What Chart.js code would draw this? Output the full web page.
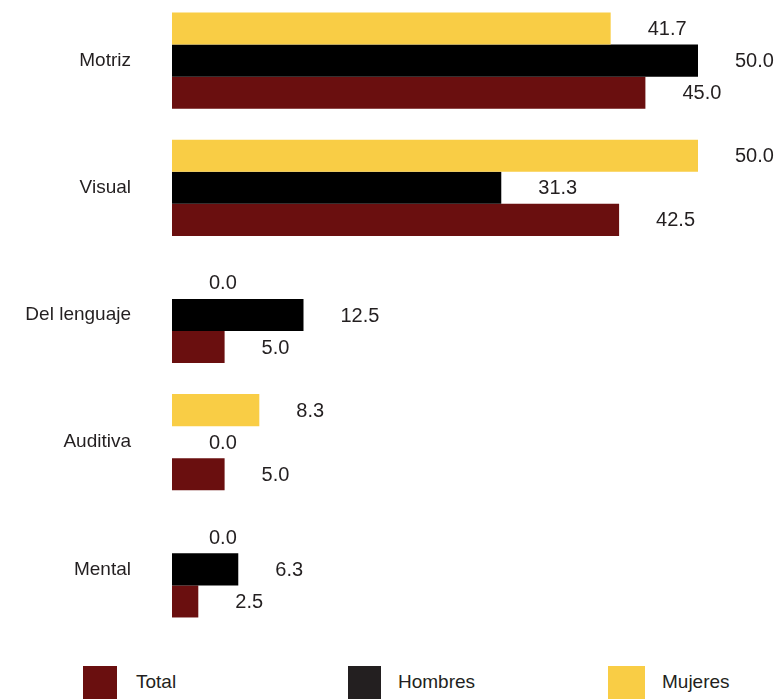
<!DOCTYPE html>
<html>
<head>
<meta charset="utf-8">
<script src="https://cdn.jsdelivr.net/npm/chart.js@4"></script>
<style>
  html, body { margin: 0; padding: 0; background: #fff; }
  body { width: 782px; height: 699px; position: relative; overflow: hidden; font-family: "Liberation Sans", Arial, sans-serif; }
  #chart { position: absolute; left: 0; top: -3px; }
  .leg { position: absolute; top: 666px; height: 40px; }
  .leg span.box { position: absolute; left: 0; top: 0; width: 34px; height: 40px; }
  .leg span.txt { position: absolute; top: 5px; font-size: 19px; color: #231f20; white-space: nowrap; }
</style>
</head>
<body>
<canvas id="chart" width="782" height="636"></canvas>

<div class="leg" style="left:83px"><span class="box" style="background:#6a0f0f"></span><span class="txt" style="left:53px">Total</span></div>
<div class="leg" style="left:348px"><span class="box" style="background:#231f20;width:33px"></span><span class="txt" style="left:50px">Hombres</span></div>
<div class="leg" style="left:608px"><span class="box" style="background:#f9cd45;width:37px"></span><span class="txt" style="left:54px">Mujeres</span></div>

<script>
var categories = ["Motriz", "Visual", "Del lenguaje", "Auditiva", "Mental"];
var mujeres = [41.7, 50.0, 0.0, 8.3, 0.0];
var hombres = [50.0, 31.3, 12.5, 0.0, 6.3];
var total = [45.0, 42.5, 5.0, 5.0, 2.5];

// value labels to the right of each bar
var valueLabels = {
  id: 'valueLabels',
  afterDatasetsDraw: function (chart) {
    var ctx = chart.ctx;
    ctx.save();
    ctx.font = '20px "Liberation Sans", Arial, sans-serif';
    ctx.fillStyle = '#231f20';
    ctx.textAlign = 'left';
    ctx.textBaseline = 'middle';
    chart.data.datasets.forEach(function (ds, i) {
      chart.getDatasetMeta(i).data.forEach(function (bar, j) {
        ctx.fillText(ds.data[j].toFixed(1), bar.x + 37, bar.y + 1);
      });
    });
    ctx.restore();
  }
};

var ctx = document.getElementById('chart');
var barChart = new Chart(ctx, {
  type: 'bar',
  data: {
    labels: categories,
    datasets: [
      { label: 'Mujeres', data: mujeres, backgroundColor: '#f9cd45' },
      { label: 'Hombres', data: hombres, backgroundColor: '#000000' },
      { label: 'Total', data: total, backgroundColor: '#6a0f0f' }
    ]
  },
  options: {
    indexAxis: 'y',
    responsive: false,
    animation: false,
    datasets: { bar: { categoryPercentage: 96 / 127, barPercentage: 1, inflateAmount: 0, borderWidth: 0 } },
    layout: { padding: { left: 0, right: 84, top: 0, bottom: 0 } },
    plugins: {
      legend: { display: false },
      tooltip: { enabled: false }
    },
    scales: {
      x: { min: 0, max: 50, display: false },
      y: {
        grid: { display: false, drawTicks: false },
        border: { display: false },
        ticks: {
          padding: 41,
          color: '#231f20',
          font: { family: '"Liberation Sans", Arial, sans-serif', size: 19 }
        },
        afterFit: function (scale) {
          scale.width = 172;
          scale.paddingTop = 0;
          scale.paddingBottom = 0;
        }
      }
    }
  },
  plugins: [valueLabels]
});
</script>
</body>
</html>
